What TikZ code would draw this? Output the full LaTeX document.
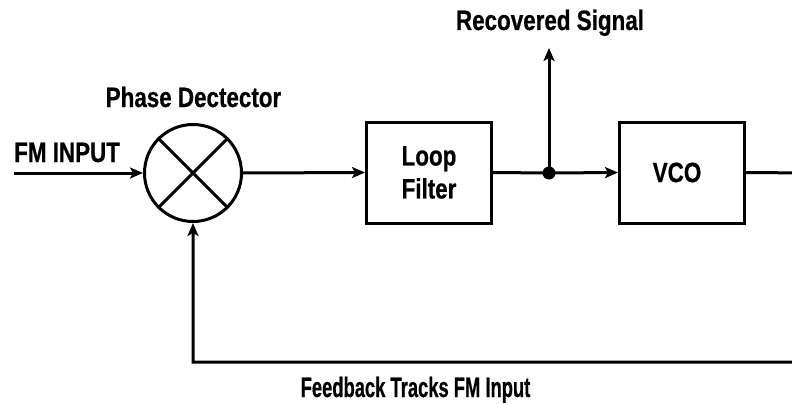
\documentclass[tikz,border=0pt]{standalone}
\usepackage{fontspec}
\setmainfont{Liberation Sans}[FakeStretch=0.8, BoldFeatures={FakeStretch=0.8, FakeBold=0.6}]
\usetikzlibrary{arrows.meta}
\tikzset{
  wire/.style={line width=3pt},
  sig/.style={wire, -{Stealth[length=13pt,width=11pt,inset=3pt]}},
  block/.style={draw, line width=3pt, minimum width=125pt, minimum height=101pt,
    inner sep=0pt, align=center, font=\lbl},
  lbl/.style={font=\lbl, inner sep=0pt},
}
\newcommand{\lbl}{\bfseries\fontsize{28}{33}\selectfont}
\begin{document}
\begin{tikzpicture}[x=1pt,y=-1pt]
  \useasboundingbox (0,0) rectangle (792,404);
  \clip (0,0) rectangle (792,404);

  % mixer (phase detector)
  \node[circle, draw, line width=3pt, minimum size=97pt, inner sep=0pt] (pd) at (193,173) {};
  \draw[wire] (pd.north west) -- (pd.south east);
  \draw[wire] (pd.north east) -- (pd.south west);

  % blocks
  \node[block] (lf) at (429,172.5) {Loop\\Filter};
  \node[block] (vco) at (682,172.5) {\hspace*{-10pt}VCO};

  % junction
  \coordinate (in) at (14,173);
  \node[circle, fill, inner sep=0pt, minimum size=13pt] (j) at (549,173) {};
  \coordinate (rec) at (549,48);
  \coordinate (ra) at (810,173);
  \coordinate (rb) at (810,362);

  % signal path
  \draw[sig] (in) -- (pd.west);
  \draw[sig] (pd.east) -- (lf.west);
  \draw[wire] (lf.east) -- (j.center);
  \draw[sig] (j.center) -- (vco.west);
  \draw[sig] (j.center) -- (rec);

  % feedback loop
  \draw[sig] (vco.east) -- (ra) -- (rb) -| (pd.south);

  % labels
  \node[lbl, anchor=base west] (lin) at (14,162) {FM INPUT};
  \node[lbl, anchor=base] (lpd) at (193.5,107) {Phase Dectector};
  \node[lbl, anchor=base] (lrec) at (550,30) {Recovered Signal};
  \node[lbl, anchor=base] (lfb) at (415.5,397) {\scalebox{0.82}[1]{Feedback Tracks FM Input}};
\end{tikzpicture}
\end{document}
